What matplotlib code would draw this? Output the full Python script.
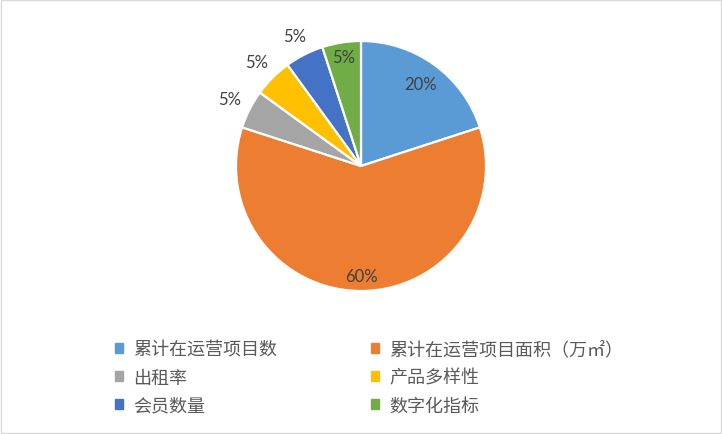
import matplotlib.pyplot as plt
import matplotlib.patches as mpatches
import numpy as np

plt.rcParams['font.family'] = ['Noto Sans CJK SC', 'DejaVu Sans']

# data
categories = ['累计在运营项目数', '累计在运营项目面积（万㎡）', '出租率', '产品多样性', '会员数量', '数字化指标']
shares = [20, 60, 5, 5, 5, 5]
colors = ['#5B9BD5', '#ED7D31', '#A5A5A5', '#FFC000', '#4472C4', '#70AD47']
label_dist = [0.81, 0.88, 1.18, 1.18, 1.17, 0.88]

fig = plt.figure(figsize=(7.22, 4.35), dpi=100)
fig.patches.append(mpatches.Rectangle((0.001, 0.002), 0.997, 0.996, transform=fig.transFigure,
                                      fill=False, edgecolor='#D9D9D9', linewidth=1))

ax = fig.add_axes([236 / 722, 143 / 435, 250 / 722, 250 / 435])
wedges, _ = ax.pie(shares, colors=colors, startangle=90, counterclock=False,
                   wedgeprops=dict(edgecolor='white', linewidth=1.6))
ax.set_xlim(-1, 1)
ax.set_ylim(-1, 1)
ax.set_aspect('equal')

# percent labels
total = sum(shares)
for w, v, d in zip(wedges, shares, label_dist):
    ang = np.deg2rad((w.theta1 + w.theta2) / 2)
    ax.text(d * np.cos(ang), d * np.sin(ang), f'{v / total * 100:.0f}%', ha='center', va='center',
            fontsize=12, color='#404040', family=['Lato', 'DejaVu Sans'])

# legend, row-wise order in 2 columns
order = [0, 2, 4, 1, 3, 5]
handles = [mpatches.Patch(color=colors[i]) for i in order]
labels = [categories[i] for i in order]
fig.legend(handles, labels, ncol=2, loc='upper left', bbox_to_anchor=(102 / 722, 1 - 329 / 435),
           frameon=False, fontsize=13, handlelength=0.45, handleheight=0.45, handletextpad=0.6,
           columnspacing=5.15, labelspacing=0.55, labelcolor='#595959', borderpad=0.2)

fig.savefig('out.png', dpi=100)
